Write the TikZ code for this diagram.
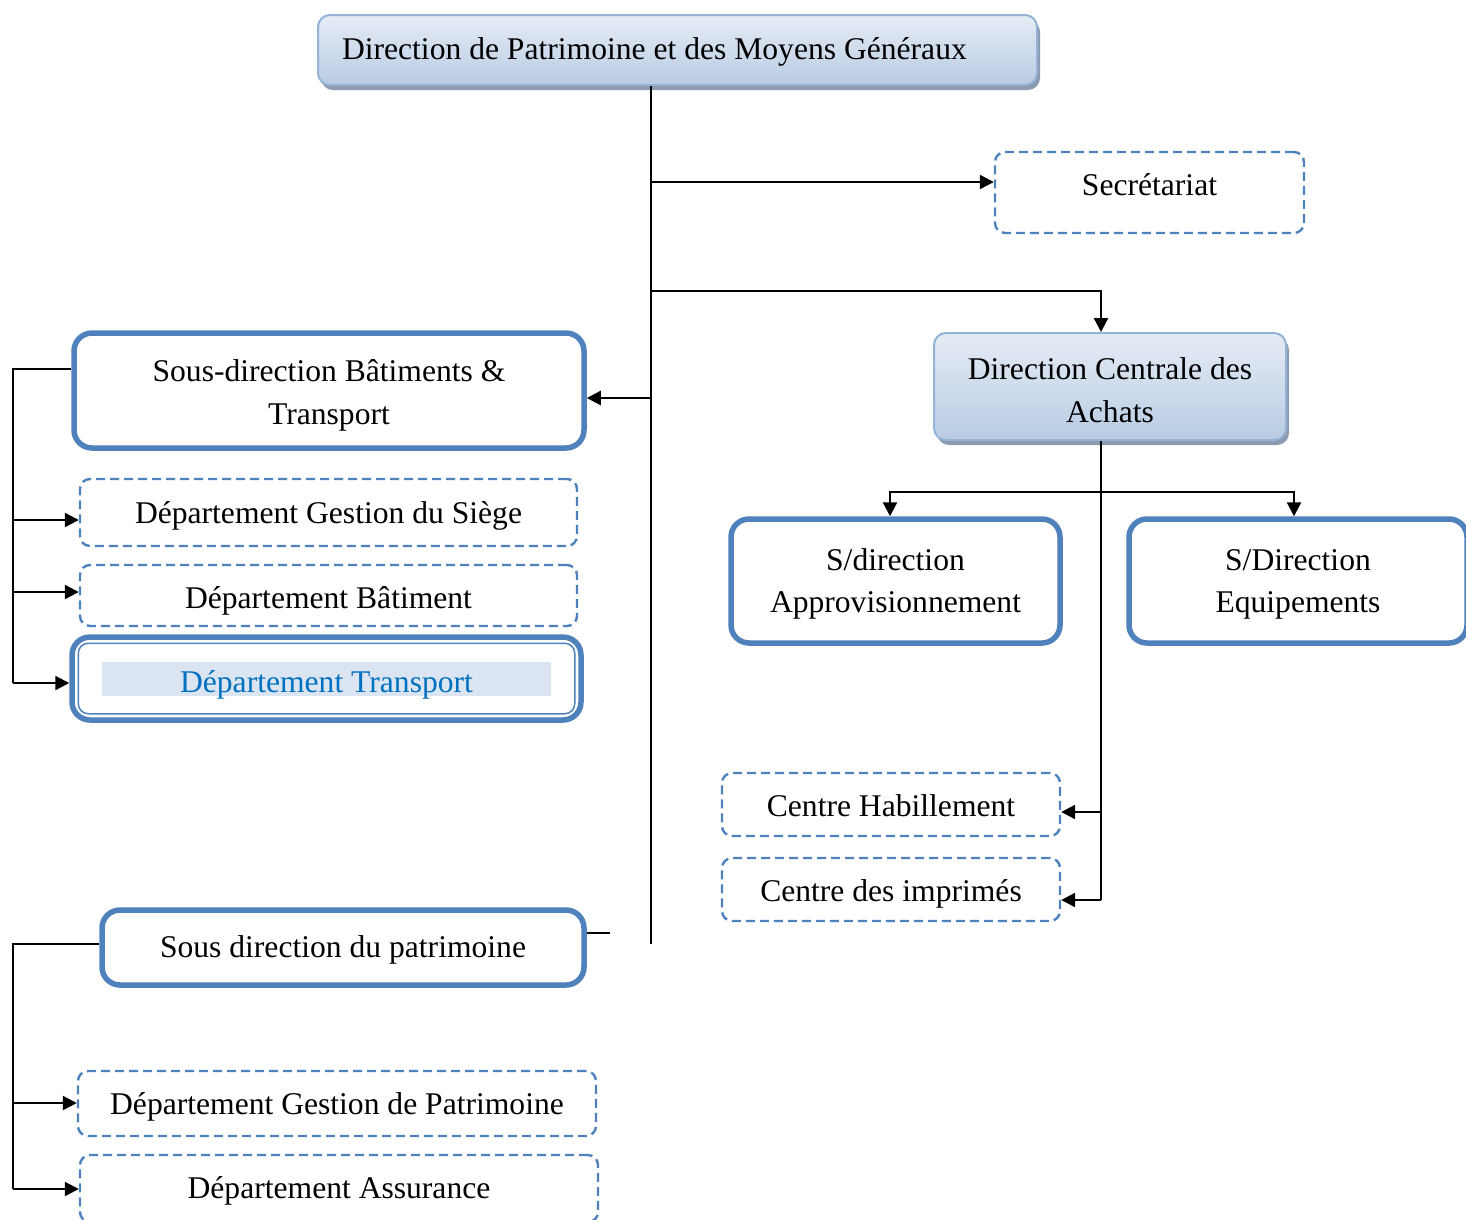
\documentclass[tikz,border=0pt]{standalone}
\usepackage{fontspec}
\setmainfont{Liberation Serif}
\usetikzlibrary{arrows.meta,shadows}
\definecolor{bl}{HTML}{4F81BD}
\definecolor{tb}{HTML}{95B3D7}
\definecolor{gtop}{HTML}{E6ECF5}
\definecolor{gbot}{HTML}{B8CCE4}
\definecolor{shad}{HTML}{8C9BB0}
\definecolor{band}{HTML}{DBE5F1}
\definecolor{tblue}{HTML}{0070C0}
\newcommand\myfs{\fontsize{31.6}{42.5}\selectfont}
\newcommand\mystrut{\rule[-9pt]{0pt}{41pt}}
\newcommand\dn[2]{\raisebox{#1}{#2}\mystrut}
\tikzset{
  base/.style={font=\myfs, align=center, inner sep=0pt},
  shadowbox/.style={base, draw=tb, line width=2pt, rounded corners=12pt,
    top color=gtop, bottom color=gbot,
    drop shadow={shadow xshift=3pt, shadow yshift=-5pt, fill=shad, opacity=1}},
  thickbox/.style={base, draw=bl, line width=5.5pt, rounded corners=18pt, fill=white},
  dbox/.style={base, draw=bl, line width=2.4pt, dash pattern=on 9pt off 5pt, rounded corners=10pt},
  arr/.style={line width=2.3pt, -{Triangle[length=14pt,width=14pt]}},
  ln/.style={line width=2.3pt}
}
\begin{document}
\begin{tikzpicture}[x=1pt,y=-1pt]
\useasboundingbox (0,0) rectangle (1466,1219);
\clip (0,0) rectangle (1466,1219);

\node[shadowbox, minimum width=719pt, minimum height=70pt] (top) at (677.5,50) {\makebox[671pt][l]{\dn{2pt}{Direction de Patrimoine et des Moyens Généraux}}};
\node[dbox, minimum width=309pt, minimum height=81pt] (sec) at (1149.5,192.5) {\dn{9pt}{Secrétariat}};
\node[shadowbox, minimum width=352pt, minimum height=107pt] (dca) at (1110,386.5) {\dn{-3pt}{Direction Centrale des}\\\dn{-3pt}{Achats}};
\node[thickbox, minimum width=510pt, minimum height=115pt] (sdbt) at (329,390.5) {\dn{-1pt}{Sous-direction Bâtiments \&}\\\dn{-1pt}{Transport}};
\node[dbox, minimum width=497pt, minimum height=67pt] (dgs) at (328.5,512.5) {\dn{1pt}{Département Gestion du Siège}};
\node[dbox, minimum width=497pt, minimum height=61pt] (db) at (328.5,595.5) {\dn{-1pt}{Département Bâtiment}};
\node[thickbox, minimum width=509pt, minimum height=83pt] (dt) at (326.5,678.5) {};
\draw[bl, line width=1.5pt, rounded corners=10pt] ([shift={(9,9)}]dt.north west) rectangle ([shift={(-9,-9)}]dt.south east);
\node[font=\myfs, fill=band, text=tblue, minimum width=449pt, minimum height=34pt, inner sep=0pt, text height=28pt, text depth=1pt] (dtt) at (326.5,679) {Département Transport};

\node[thickbox, minimum width=329pt, minimum height=124pt] (sda) at (895.5,581) {\dn{1pt}{S/direction}\\\dn{1pt}{Approvisionnement}};
\node[thickbox, minimum width=338pt, minimum height=124pt] (sde) at (1298,581) {\dn{1pt}{S/Direction}\\\dn{1pt}{Equipements}};
\node[dbox, minimum width=338pt, minimum height=63pt] (ch) at (891,804.5) {\dn{0pt}{Centre Habillement}};
\node[dbox, minimum width=338pt, minimum height=63pt] (ci) at (891,889.5) {\dn{0pt}{Centre des imprimés}};
\node[thickbox, minimum width=482pt, minimum height=75pt] (sdp) at (343,947.5) {\dn{2pt}{Sous direction du patrimoine}};
\node[dbox, minimum width=518pt, minimum height=65pt] (dgp) at (337,1103.5) {\dn{1pt}{Département Gestion de Patrimoine}};
\node[dbox, minimum width=518pt, minimum height=67pt] (da) at (339,1188.5) {\dn{2pt}{Département Assurance}};

% trunk
\coordinate (tend) at (651,944);
\draw[ln] (651,0 |- top.south) -- (tend);
\draw[arr] (651,182) -- (sec.west |- 0,182);
\draw[arr] (651,291) -| (1101,0 |- dca.north);
\draw[arr] (651,398) -- (sdbt.east |- 0,398);

% left bracket top
\draw[ln] (sdbt.west |- 0,369) -- (13,369) -- (13,683);
\draw[arr] (13,520) -- (dgs.west |- 0,520);
\draw[arr] (13,592) -- (db.west |- 0,592);
\draw[arr] (13,683) -- (dt.west |- 0,683);

% DCA branch
\draw[ln] (1101,0 |- dca.south) -- (1101,900);
\draw[arr] (1101,492) -| (890,0 |- sda.north);
\draw[arr] (1101,492) -| (1294,0 |- sde.north);
\draw[arr] (1101,812) -- (ch.east |- 0,812);
\draw[arr] (1101,900) -- (ci.east |- 0,900);

% patrimoine
\coordinate (stub) at (610,933);
\draw[ln] (sdp.east |- 0,933) -- (stub);
\draw[ln] (sdp.west |- 0,944) -- (13,944) -- (13,1189);
\draw[arr] (13,1103) -- (dgp.west |- 0,1103);
\draw[arr] (13,1189) -- (da.west |- 0,1189);
\end{tikzpicture}
\end{document}
